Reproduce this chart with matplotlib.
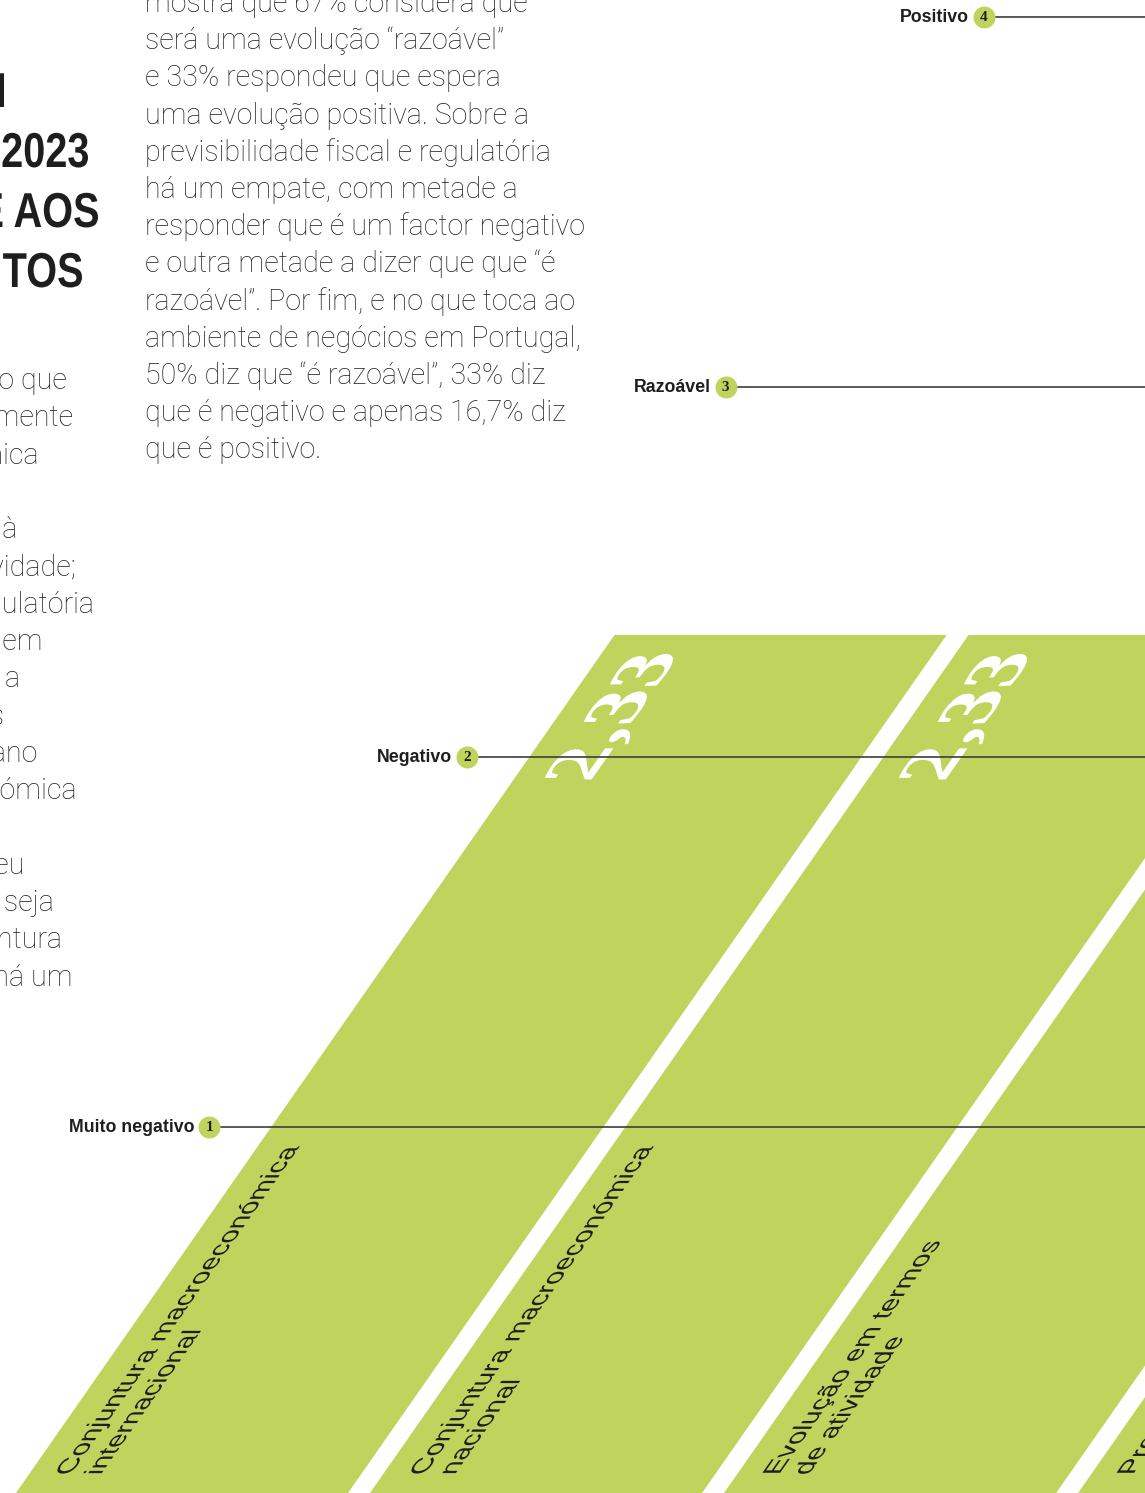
import matplotlib
matplotlib.use("Agg")
import matplotlib.pyplot as plt
import matplotlib.transforms as mtransforms
from matplotlib.font_manager import FontProperties
from matplotlib.patches import PathPatch
from matplotlib.textpath import TextPath

GREEN = "#c0d35c"
INK = "#1e1e1e"
BODY = "#242424"
RULE = "#3d3d3d"

# rating scale used in the survey
levels = [1, 2, 3, 4]
level_names = ["Muito negativo", "Negativo", "Razoável", "Positivo"]

# average score per factor
categories = [
    ["Conjuntura macroeconómica", "internacional"],
    ["Conjuntura macroeconómica", "nacional"],
    ["Evolução em termos", "de atividade"],
    ["Previsibilidade fiscal", "e regulatória"],
]
scores = [2.33, 2.33, 2.33, 2.5]

title_lines = ["EXPECTATIVAS EM", "RELAÇÃO A 2023", "FACE AOS", "INVESTIMENTOS"]
title_right = [4, 88, 98, 82]

# left column, only its tail is on the page
left_lines = [
    ("indicando que", 67), ("maioritariamente", 74), ("económica", 39), ("", 0),
    ("relativamente à", 17), ("atividade;", 77), ("regulatória", 95),
    ("negativo em", 43), ("a", 20), ("os", 5), ("próximo ano", 37),
    ("económica", 77), ("", 0), ("respondeu", 25), ("que seja", 54),
    ("conjuntura", 63), ("e há um", 72),
]

mid_lines = [
    "mostra que 67% considera que",
    "será uma evolução “razoável”",
    "e 33% respondeu que espera",
    "uma evolução positiva. Sobre a",
    "previsibilidade fiscal e regulatória",
    "há um empate, com metade a",
    "responder que é um factor negativo",
    "e outra metade a dizer que que “é",
    "razoável”. Por fim, e no que toca ao",
    "ambiente de negócios em Portugal,",
    "50% diz que “é razoável”, 33% diz",
    "que é negativo e apenas 16,7% diz",
    "que é positivo.",
]

W, H, DPI = 1145, 1493, 100
SHEAR = 34.9  # slant of the columns, degrees from vertical

fig = plt.figure(figsize=(W / DPI, H / DPI), dpi=DPI)
ax = fig.add_axes([0, 0, 1, 1])
ax.set_axis_off()
ax.set_xlim(-0.514, 2.720)
ax.set_ylim(0.011, 4.046)

shear = mtransforms.Affine2D().skew_deg(SHEAR, 0)
skew = ax.transData + shear


def slanted_text(s, x, y, size, prop, color, dx=0.0, dy=0.0, z=3):
    """Text reading upwards along the slanted column, baseline at (x, y)."""
    path = TextPath((0, 0), s, size=size, prop=prop)
    x0, y0 = ax.transData.transform((x, y))
    tr = mtransforms.Affine2D().rotate_deg(90).translate(x0 + dx, y0 + dy) + shear
    ax.add_patch(PathPatch(path, transform=tr, facecolor=color, lw=0,
                           zorder=z, clip_on=False))
    return path


# columns
bar_w = 0.938
xs = list(range(len(scores)))
ax.bar(xs, scores, width=bar_w, color=GREEN, transform=skew, zorder=1,
       clip_on=False)

label_prop = FontProperties(family="Liberation Sans")
value_prop = FontProperties(family="Liberation Serif", weight="bold")
for i, (lines, v) in enumerate(zip(categories, scores)):
    left = i - bar_w / 2
    for k, line in enumerate(lines):
        slanted_text(line, left, 0.06, 25.7, label_prop, INK, dx=42 + 30 * k)
    txt = f"{v:.2f}".replace(".", ",")
    p = TextPath((0, 0), txt, size=75, prop=value_prop)
    length = p.get_extents().x1
    slanted_text(txt, left, v, 75, value_prop, "white", dx=78, dy=-19 - length)

# scale rules with numbered markers
x_c = -0.644
ax.hlines(levels, x_c, 10, transform=skew, color=RULE, lw=1.2, zorder=4,
          clip_on=False)
ax.scatter([x_c] * len(levels), levels, s=250, color=GREEN, transform=skew,
           zorder=5, clip_on=False, linewidths=0)
name_tr = mtransforms.offset_copy(skew, fig, x=-15, y=0, units="dots")
for lv, name in zip(levels, level_names):
    ax.text(x_c, lv, name, transform=name_tr, ha="right", va="center",
            fontsize=12.8, fontweight="bold", family="Liberation Sans",
            color=INK, zorder=6, clip_on=False)
    ax.text(x_c, lv, str(lv), transform=skew, ha="center", va="center",
            fontsize=11, fontweight="bold", family="Liberation Serif",
            color=INK, zorder=6, clip_on=False)

# headline, set narrow
title_prop = FontProperties(family="Liberation Sans", weight="bold")
for k, (line, xr) in enumerate(zip(title_lines, title_right)):
    p = TextPath((0, 0), line, size=49, prop=title_prop)
    wdt = p.get_extents().x1 * 0.81
    tr = mtransforms.Affine2D().scale(0.81, 1).translate(xr - wdt, H - (107 + 60 * k))
    ax.add_patch(PathPatch(p, transform=tr, facecolor=INK, lw=0, clip_on=False))

# running text
for k, (line, xr) in enumerate(left_lines):
    if line:
        fig.text(xr / W, 1 - (389 + 37.3 * k) / H, line, ha="right",
                 va="baseline", fontsize=20.6, family="Roboto",
                 fontweight="light", color=BODY)

for k, line in enumerate(mid_lines):
    fig.text(145 / W, 1 - (12 + 37.2 * k) / H, line, ha="left", va="baseline",
             fontsize=20.6, family="Roboto", fontweight="light", color=BODY)

fig.savefig("out.png", dpi=DPI)
